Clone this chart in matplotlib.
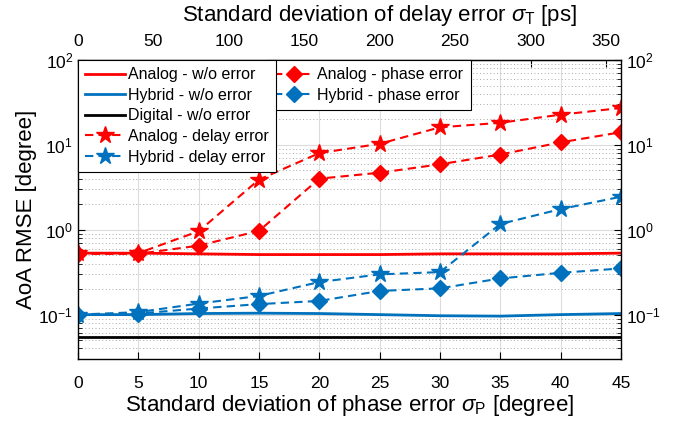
import numpy as np
import matplotlib
matplotlib.use("Agg")
import matplotlib.pyplot as plt
from matplotlib.ticker import LogLocator, NullFormatter

plt.rcParams['font.family'] = ['Liberation Sans', 'DejaVu Sans']
plt.rcParams['mathtext.fontset'] = 'custom'
plt.rcParams['mathtext.rm'] = 'Liberation Sans'
plt.rcParams['mathtext.it'] = 'Liberation Sans:italic'

# Data
phase_err = [0, 5, 10, 15, 20, 25, 30, 35, 40, 45]
analog_wo = [0.53, 0.53, 0.52, 0.51, 0.51, 0.51, 0.52, 0.52, 0.52, 0.53]
hybrid_wo = [0.100, 0.100, 0.103, 0.104, 0.103, 0.100, 0.097, 0.096, 0.100, 0.103]
digital_wo = [0.055, 0.055, 0.055, 0.055, 0.055, 0.055, 0.055, 0.055, 0.055, 0.055]
analog_delay = [0.53, 0.53, 0.96, 3.9, 8.0, 10.3, 16.1, 18.2, 22.7, 27.2]
hybrid_delay = [0.100, 0.107, 0.135, 0.166, 0.242, 0.298, 0.317, 1.17, 1.75, 2.45]
analog_phase = [0.52, 0.52, 0.65, 0.97, 4.0, 4.7, 5.9, 7.7, 10.7, 14.1]
hybrid_phase = [0.100, 0.103, 0.118, 0.133, 0.145, 0.19, 0.204, 0.267, 0.311, 0.35]
delay_ticks = [0, 50, 100, 150, 200, 250, 300, 350]

RED = (1, 0, 0)
BLUE = (0, 0.447, 0.741)
dash = (0, (4, 2.5))

fig = plt.figure(figsize=(6.85, 4.22), dpi=100)
ax = fig.add_axes([78/685, 1-359/422, 543/685, 299/422])

l1, = ax.plot(phase_err, analog_wo, color=RED, lw=2, label='Analog - w/o error')
l2, = ax.plot(phase_err, hybrid_wo, color=BLUE, lw=2, label='Hybrid - w/o error')
l3, = ax.plot(phase_err, digital_wo, color='black', lw=2, label='Digital - w/o error')
l4, = ax.plot(phase_err, analog_delay, color=RED, lw=1.5, ls=dash, marker='*', ms=13,
              label='Analog - delay error')
l5, = ax.plot(phase_err, hybrid_delay, color=BLUE, lw=1.5, ls=dash, marker='*', ms=13,
              label='Hybrid - delay error')
l6, = ax.plot(phase_err, analog_phase, color=RED, lw=1.5, ls=dash, marker='D', ms=8.5,
              label='Analog - phase error')
l7, = ax.plot(phase_err, hybrid_phase, color=BLUE, lw=1.5, ls=dash, marker='D', ms=8.5,
              label='Hybrid - phase error')

ax.set_yscale('log')
ax.set_ylim(0.03, 100)
ax.set_xlim(0, 45)
ax.set_xticks(phase_err)
ax.yaxis.set_major_locator(LogLocator(base=10, numticks=10))
ax.yaxis.set_minor_locator(LogLocator(base=10, subs=np.arange(2, 10), numticks=20))
ax.yaxis.set_minor_formatter(NullFormatter())
ax.tick_params(axis='both', which='both', direction='in', labelsize=12.5, right=True,
               labelright=True)
ax.tick_params(axis='both', which='major', length=5)
ax.tick_params(axis='both', which='minor', length=3)
ax.tick_params(axis='x', pad=12)

ax.grid(True, which='major', axis='x', color='#dcdcdc', lw=0.8)
ax.grid(True, which='major', axis='y', color='#dcdcdc', lw=0.8)
ax.grid(True, which='minor', axis='y', color='#aaaaaa', lw=0.7, ls=(0, (1, 2.5)))
ax.set_axisbelow(True)
for s in ax.spines.values():
    s.set_linewidth(1.0)

ax.set_xlabel(r'Standard deviation of phase error $\sigma_{\rm P}$ [degree]', fontsize=16, labelpad=2)
ax.set_ylabel('AoA RMSE [degree]', fontsize=16, labelpad=1)

sec = ax.secondary_xaxis('top', functions=(lambda x: x * 8, lambda x: x / 8))
sec.set_xticks(delay_ticks)
sec.tick_params(direction='in', labelsize=12.5, length=5, pad=8)
sec.set_xlabel(r'Standard deviation of delay error $\sigma_{\rm T}$ [ps]', fontsize=16)
sec.xaxis.set_label_coords(380 / 685, 1 - 16 / 422, transform=fig.transFigure)
sec.xaxis.label.set_va('center')

legkw = dict(frameon=True, fancybox=False, framealpha=1, edgecolor='black', fontsize=11.5,
             handlelength=2.5, handletextpad=0.2, labelspacing=0.35, borderpad=0.45,
             borderaxespad=0)
leg2 = ax.legend(handles=[l6, l7], loc='upper left', bbox_to_anchor=((267-78)/543, 1.0), **legkw)
leg2.get_frame().set_linewidth(0.8)
ax.add_artist(leg2)
leg1 = ax.legend(handles=[l1, l2, l3, l4, l5], loc='upper left', bbox_to_anchor=(0, 1.0), **legkw)
leg1.get_frame().set_linewidth(0.8)
leg1.set_zorder(leg2.get_zorder() + 1)

fig.savefig('out.png', dpi=100)
